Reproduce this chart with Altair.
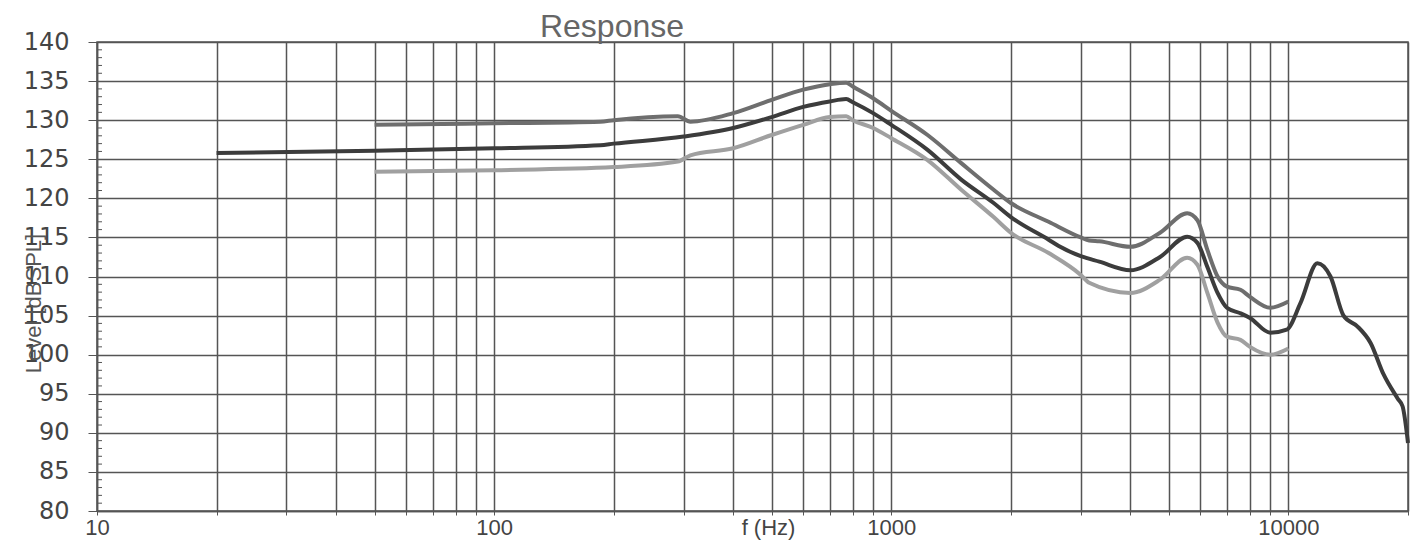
import altair as alt
import pandas as pd

# ---- data ----
mid_f = [20, 50, 100, 185, 200, 300, 400, 500, 600, 700, 770, 800, 900, 1000, 1234, 1500,
         1810, 2000, 2490, 2640, 3000, 3340, 4000, 4750, 5560, 5900, 6250, 6630, 7000, 7570,
         8000, 9000, 9900, 10720, 11830, 12760, 13760, 14930, 16100, 17350, 18830, 19380, 20000]
mid_db = [125.8, 126.1, 126.4, 126.8, 127.0, 127.9, 129.0, 130.4, 131.7, 132.4, 132.7, 132.3,
          130.9, 129.4, 126.2, 122.4, 119.4, 117.6, 114.7, 113.9, 112.6, 111.9, 110.8, 112.5,
          115.1, 114.3, 111.2, 107.9, 106.0, 105.3, 104.7, 102.8, 103.2, 106.6, 111.7, 110.0,
          105.0, 103.6, 101.5, 97.5, 94.4, 93.4, 88.7]

up_f = [50, 100, 185, 200, 290, 312, 400, 500, 600, 700, 770, 800, 900, 1000, 1234, 1500,
        1810, 2000, 2490, 3000, 3150, 3340, 4000, 4750, 5560, 5900, 6250, 6630, 7000, 7570,
        8000, 9000, 10000]
up_db = [129.4, 129.6, 129.8, 130.0, 130.5, 129.8, 130.9, 132.6, 133.9, 134.6, 134.8, 134.3,
         132.8, 131.2, 128.1, 124.5, 121.1, 119.4, 117.0, 115.0, 114.6, 114.5, 113.8, 115.6,
         118.1, 117.2, 113.4, 110.0, 108.7, 108.3, 107.4, 106.0, 106.8]

lo_f = [50, 100, 200, 290, 312, 400, 500, 600, 700, 770, 800, 900, 1000, 1234, 1500,
        1810, 2000, 2490, 3000, 3150, 4000, 4750, 5560, 5900, 6250, 6630, 7000, 7570,
        8000, 9000, 10000]
lo_db = [123.4, 123.6, 124.0, 124.7, 125.5, 126.4, 128.1, 129.4, 130.4, 130.5, 130.0, 129.0,
         127.7, 124.9, 121.1, 117.6, 115.6, 113.0, 110.2, 109.2, 107.9, 109.6, 112.4, 111.5,
         107.9, 104.1, 102.3, 101.9, 101.0, 100.0, 100.8]

series_names = ["upper", "lower", "middle"]
series_colors = ["#6e6e6e", "#a0a0a0", "#3c3c3c"]

x_grid = [10, 20, 30, 40, 50, 60, 70, 80, 90,
          100, 200, 300, 400, 500, 600, 700, 800, 900,
          1000, 2000, 3000, 4000, 5000, 6000, 7000, 8000, 9000,
          10000, 20000]
y_ticks = list(range(80, 141, 5))
y_minor = [v for v in range(81, 140) if v % 5 != 0]
title_text = "Response"

rows = []
for name, fs, ds in [("upper", up_f, up_db), ("lower", lo_f, lo_db), ("middle", mid_f, mid_db)]:
    for f, d in zip(fs, ds):
        rows.append({"f": f, "db": d, "s": name})
df = pd.DataFrame(rows)

W, H = 1311, 469

xscale = alt.Scale(type="log", domain=[10, 20000], nice=False)
yscale = alt.Scale(domain=[80, 140], nice=False, zero=False)

y_axis = alt.Axis(values=y_ticks, title="Level [dBSPL]", labelOverlap=False,
                  titleX=-64, titleY=261, titleAngle=-90, titleBaseline="middle",
                  titleAlign="center", titleAnchor="start",
                  titleFont="Liberation Sans", titleFontSize=22, titleFontWeight="normal",
                  titleColor="#555",
                  labelFont="DejaVu Sans", labelFontSize=24, labelColor="#444",
                  labelPadding=19, tickSize=9, tickColor="#555",
                  grid=True, gridColor="#555", gridWidth=1.5)

lines = alt.Chart(df).mark_line(strokeWidth=4, interpolate="monotone").encode(
    x=alt.X("f:Q", scale=xscale,
            axis=alt.Axis(values=x_grid, format="d", labelOverlap=False, labelFlush=False,
                          labelExpr="(datum.value==10||datum.value==100||datum.value==1000||datum.value==10000) ? datum.label : ''",
                          title="f (Hz)", titleX=671, titleY=23, titleBaseline="alphabetic",
                          titleAlign="center", titleAnchor="start",
                          titleFont="Liberation Sans", titleFontSize=22, titleFontWeight="normal",
                          titleColor="#444",
                          labelFont="Liberation Sans", labelFontSize=22, labelColor="#444",
                          labelBaseline="alphabetic", labelPadding=19, tickSize=4, tickColor="#555",
                          grid=True, gridColor="#555", gridWidth=1.5)),
    y=alt.Y("db:Q", scale=yscale, axis=y_axis),
    color=alt.Color("s:N", scale=alt.Scale(domain=series_names, range=series_colors), legend=None),
    detail="s:N",
)

minor = alt.Chart(pd.DataFrame({"v": y_minor})).mark_rule(color="#555", strokeWidth=1).encode(
    y=alt.Y("v:Q", scale=yscale, axis=y_axis),
    x=alt.value(0), x2=alt.value(5),
)

title = alt.Chart(pd.DataFrame({"t": [title_text]})).mark_text(
    fontSize=32, font="Liberation Sans", color="#666", align="center", baseline="alphabetic"
).encode(text="t:N", x=alt.value(515), y=alt.value(-5))

chart = alt.layer(lines, minor, title).properties(
    width=W, height=H,
    padding={"left": 89, "top": 34, "right": 5, "bottom": 29},
    autosize=alt.AutoSizeParams(type="none"),
).configure_view(stroke="#555", strokeWidth=1.5).configure_axis(
    domainColor="#555", domainWidth=1.5
)

chart.save("out.html", embed_options={"renderer": "svg", "actions": False})
